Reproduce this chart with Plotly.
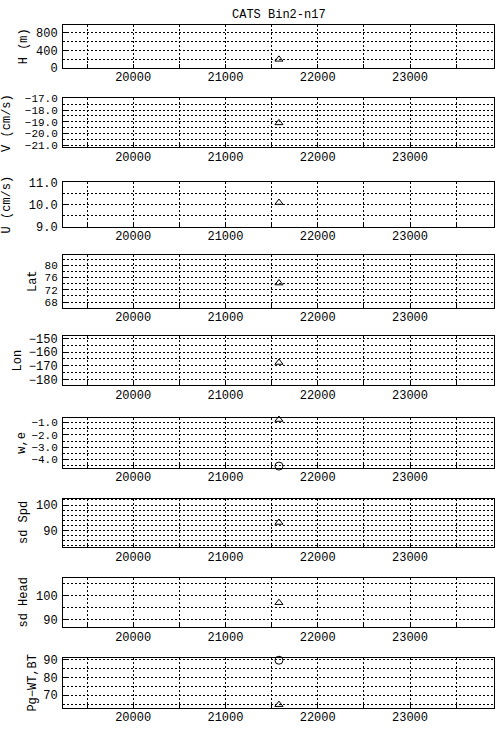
import plotly.graph_objects as go

W, H = 496, 736

# ---- data ----
x_time = [21580]
panel_labels = ["H (m)", "V (cm/s)", "U (cm/s)", "Lat", "Lon", "w,e", "sd Spd", "sd Head", "Pg\u2212WT,BT"]
tri_vals = [195, -19.1, 10.1, 74.2, -167.6, -0.76, 93.1, 97.0, 64.7]
circ_vals = [None, None, None, None, None, -4.53, None, None, 89.8]
y_ranges = [[0, 990], [-21.2, -17.0], [9.0, 11.03], [66.2, 83.5], [-184.1, -148.1],
            [-4.66, -0.6], [83.3, 102.45], [86.9, 107.2], [63.0, 91.3]]
y_major = [400, 1, 1, 4, 10, 1, 10, 10, 10]
y_minor = [200, 0.5, 0.5, 2, 5, 0.5, 2, 5, 5]
y_tick0 = [0, -21, 9, 68, -180, -4, 90, 90, 70]
y_fmt = ["d", ".1f", ".1f", "d", "d", ".1f", "d", "d", "d"]
x_range = [19240, 23910]
title = "CATS Bin2-n17"

# ---- layout geometry (pixels) ----
tops = [20, 95, 180, 254, 336.7, 420, 502.7, 583.3, 664.3]
bots = [64, 145, 226, 308, 387, 471, 552, 633.3, 715.3]
label_x = [24, 7, 7, 33, 18, 22, 24, 24, 33]
ytick_size = [12, 11, 12, 11, 12, 11, 12, 12, 12]
xl, xr = 63, 494

FONT = "Liberation Mono, Courier New, monospace"
fig = go.Figure()
layout = dict(width=W, height=H, margin=dict(l=0, r=0, t=0, b=0),
              paper_bgcolor="white", plot_bgcolor="white", showlegend=False,
              font=dict(family=FONT, size=12, color="black"))
annotations = []
for i in range(9):
    n = "" if i == 0 else str(i + 1)
    xa, ya = "x" + n, "y" + n
    fig.add_trace(go.Scatter(x=x_time, y=[tri_vals[i]], mode="markers", xaxis=xa, yaxis=ya,
                             marker=dict(symbol="triangle-up-open", size=7, color="black",
                                         line=dict(width=1)), cliponaxis=False))
    if circ_vals[i] is not None:
        fig.add_trace(go.Scatter(x=x_time, y=[circ_vals[i]], mode="markers", xaxis=xa, yaxis=ya,
                                 marker=dict(symbol="circle-open", size=8, color="black",
                                             line=dict(width=1)), cliponaxis=False))
    dom_y = [1 - bots[i] / H, 1 - tops[i] / H]
    layout["xaxis" + n] = dict(domain=[xl / W, xr / W], range=x_range, anchor=ya,
                               tick0=20000, dtick=1000, tickformat="d",
                               showgrid=True, gridcolor="black", griddash="2px,2px", gridwidth=1,
                               ticks="inside", ticklen=4, tickcolor="black",
                               minor=dict(dtick=500, tick0=19500, showgrid=True, gridcolor="black",
                                          griddash="2px,2px", ticks="inside", ticklen=4,
                                          tickcolor="black"),
                               showline=True, linecolor="black", linewidth=1, mirror=True,
                               zeroline=False, ticklabelstandoff=-2,
                               tickfont=dict(family=FONT, size=12, color="black"))
    layout["yaxis" + n] = dict(domain=dom_y, range=y_ranges[i], anchor=xa,
                               tick0=y_tick0[i], dtick=y_major[i], tickformat=y_fmt[i],
                               showgrid=True, gridcolor="black", griddash="2px,2px", gridwidth=1,
                               ticks="inside", ticklen=4, tickcolor="black",
                               minor=dict(dtick=y_minor[i], tick0=y_tick0[i], showgrid=True,
                                          gridcolor="black", griddash="2px,2px",
                                          ticks="inside", ticklen=2, tickcolor="black"),
                               showline=True, linecolor="black", linewidth=1, mirror=True,
                               zeroline=False, ticklabelstandoff=2,
                               tickfont=dict(family=FONT, size=ytick_size[i], color="black"))
    annotations.append(dict(text=panel_labels[i], xref="paper", yref="paper",
                            x=label_x[i] / W, y=1 - (tops[i] + bots[i]) / 2 / H,
                            xanchor="center", yanchor="middle", textangle=-90,
                            showarrow=False, font=dict(family=FONT, size=12, color="black")))
annotations.append(dict(text=title, xref="paper", yref="paper", x=279 / W, y=1 - 10 / H,
                        xanchor="center", yanchor="middle", showarrow=False,
                        font=dict(family=FONT, size=12, color="black")))
layout["annotations"] = annotations
fig.update_layout(**layout)
fig.write_html("out.html", config={"displayModeBar": False},
               post_script="document.body.style.margin='0';document.body.style.overflow='hidden';")
